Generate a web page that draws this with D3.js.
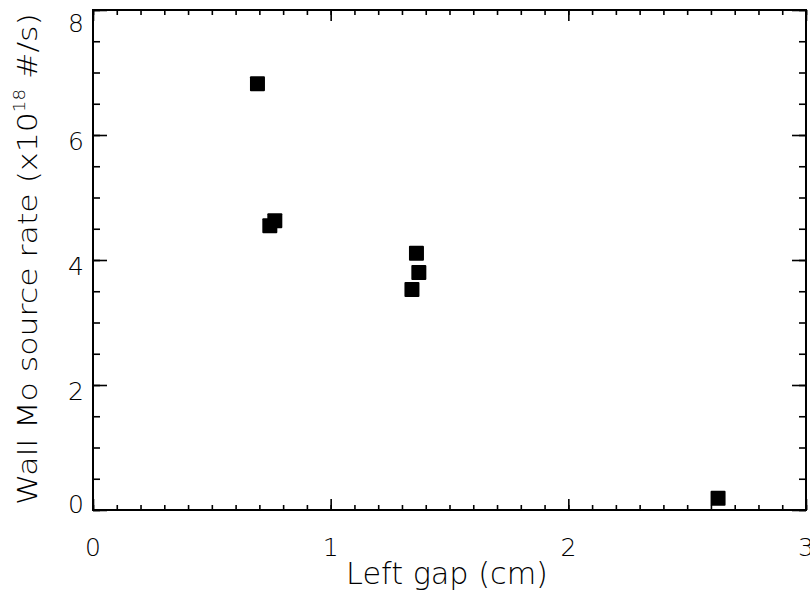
<!DOCTYPE html>
<html><head><meta charset="utf-8">
<script src="https://cdn.jsdelivr.net/npm/d3@7"></script>
<style>body{margin:0;background:#fff;} text{font-family:"DejaVu Sans",sans-serif;fill:#000;font-weight:300;}</style>
</head><body>
<svg id="c" width="810" height="600"></svg>
<script>
const gapX = [0.692, 0.744, 0.765, 1.361, 1.371, 1.342, 2.630];
const rateY = [6.82, 4.55, 4.63, 4.11, 3.80, 3.53, 0.19];
const xTicks = [0, 1, 2, 3];
const yTicks = [0, 2, 4, 6, 8];
const xLabel = "Left gap (cm)";
const yLabelParts = ["Wall Mo source rate (x10", "18", " #/s)"];

const svg = d3.select("#c");
const L = 93, R = 806, T = 10, B = 510;
const x = d3.scaleLinear().domain([0, 3]).range([L, R]);
const y = d3.scaleLinear().domain([0, 8]).range([B, T]);

const xMinor = d3.range(0, 3.0001, 0.1);
const yMinor = d3.range(0, 8.0001, 0.5);

function addAxis(axisFn, scale, vals, size, tr) {
  svg.append("g").attr("transform", tr)
    .call(axisFn(scale).tickValues(vals).tickSize(-size).tickFormat(""))
    .call(a => a.select(".domain").remove());
}
addAxis(d3.axisBottom, x, xMinor, 5, `translate(0,${B})`);
addAxis(d3.axisBottom, x, xTicks, 11, `translate(0,${B})`);
addAxis(d3.axisTop, x, xMinor, 5, `translate(0,${T})`);
addAxis(d3.axisTop, x, xTicks, 11, `translate(0,${T})`);
addAxis(d3.axisLeft, y, yMinor, 7, `translate(${L},0)`);
addAxis(d3.axisLeft, y, yTicks, 14, `translate(${L},0)`);
addAxis(d3.axisRight, y, yMinor, 7, `translate(${R},0)`);
addAxis(d3.axisRight, y, yTicks, 14, `translate(${R},0)`);
svg.selectAll(".tick line").attr("stroke", "#000").attr("stroke-width", 1.6);
svg.append("rect").attr("x", L).attr("y", T).attr("width", R - L).attr("height", B - T)
  .attr("fill", "none").attr("stroke", "#000").attr("stroke-width", 2);

// tick labels
const tfs = 25;
svg.append("g").selectAll("text").data(xTicks).join("text")
  .attr("x", d => x(d)).attr("y", 556).attr("text-anchor", "middle")
  .attr("font-size", tfs).text(d => d);
svg.append("g").selectAll("text").data(yTicks).join("text")
  .attr("x", 84).attr("y", d => Math.min(Math.max(y(d) + 6, 23), 504) + 9).attr("text-anchor", "end")
  .attr("font-size", tfs).text(d => d);

// axis titles, stretched to the reference extent
function fit(sel, target) {
  const w = sel.node().getBBox().width;
  return target / w;
}
const xt = svg.append("text").attr("text-anchor", "middle").attr("font-size", 30).text(xLabel);
const sx = fit(xt, 202);
xt.attr("transform", `translate(447,584) scale(${sx},1)`);

const yl = svg.append("text").attr("text-anchor", "middle").attr("font-size", 26);
yl.append("tspan").text(yLabelParts[0]);
yl.append("tspan").attr("dy", -12).attr("font-size", 15).text(yLabelParts[1]);
yl.append("tspan").attr("dy", 12).text(yLabelParts[2]);
const sy = fit(yl, 492);
yl.attr("transform", `translate(37,259) rotate(-90) scale(${sy},1)`);

// markers
const s = 15;
svg.append("g").selectAll("rect").data(gapX.map((d, i) => [d, rateY[i]])).join("rect")
  .attr("x", d => x(d[0]) - s / 2).attr("y", d => y(d[1]) - s / 2)
  .attr("width", s).attr("height", s).attr("rx", 1).attr("fill", "#000");
</script>
</body></html>
